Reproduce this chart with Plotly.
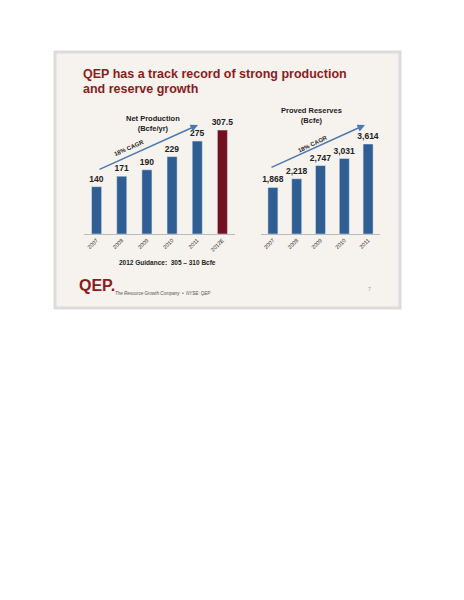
import plotly.graph_objects as go

prod_years = ["2007", "2008", "2009", "2010", "2011", "2012E"]
prod_vals = [140, 171, 190, 229, 275, 307.5]
prod_labels = ["<b>140</b>", "<b>171</b>", "<b>190</b>", "<b>229</b>", "<b>275</b>", "<b>307.5</b>"]
res_years = ["2007", "2008", "2009", "2010", "2011"]
res_vals = [1868, 2218, 2747, 3031, 3614]
res_labels = ["<b>1,868</b>", "<b>2,218</b>", "<b>2,747</b>", "<b>3,031</b>", "<b>3,614</b>"]

W, H = 464, 600
OFF = 8
px = lambda x: (x - OFF) / W
py = lambda y: 1 - (y - OFF) / H
BLUE = "#2E5E92"
RED = "#74101E"
TITLE = "#8A1C1C"

fig = go.Figure()
fig.add_trace(go.Bar(x=prod_years, y=prod_vals, text=prod_labels, textposition="outside",
                     marker_color=[BLUE]*5 + [RED], width=0.4, cliponaxis=False, constraintext="none",
                     textfont=dict(size=8.5, color="#222", family="Liberation Sans"),
                     xaxis="x", yaxis="y"))
fig.add_trace(go.Bar(x=res_years, y=res_vals, text=res_labels, textposition="outside",
                     marker_color=BLUE, width=0.42, cliponaxis=False, constraintext="none",
                     textfont=dict(size=8.5, color="#222", family="Liberation Sans"),
                     xaxis="x2", yaxis="y2"))

ax = dict(showgrid=False, showline=True, linecolor="#bbb", linewidth=1, ticks="",
          tickangle=-45, tickfont=dict(size=5.5, color="#222", family="Liberation Sans"), fixedrange=True)
ay = dict(visible=False, fixedrange=True)
fig.update_layout(
    width=W, height=H, margin=dict(l=0, r=0, t=0, b=0), showlegend=False,
    paper_bgcolor="white", plot_bgcolor="rgba(0,0,0,0)", bargap=0.4,
    xaxis=dict(domain=[px(84), px(235)], **ax),
    yaxis=dict(domain=[py(234), py(110)], range=[0, 367], **ay),
    xaxis2=dict(domain=[px(261), px(380)], anchor="y2", **ax),
    yaxis2=dict(domain=[py(234), py(110)], range=[0, 4979], anchor="x2", **ay),
    font=dict(family="Liberation Sans"),
)
fig.add_shape(type="rect", xref="paper", yref="paper", x0=px(55), x1=px(400), y0=py(308), y1=py(52),
              fillcolor="#F6F2EE", line=dict(color="#dcdcdc", width=3), layer="below")

def txt(x, y, s, size, color="#222", bold=True, angle=0, xa="center"):
    fig.add_annotation(xref="paper", yref="paper", x=px(x), y=py(y), text=f"<b>{s}</b>" if bold else s,
                       showarrow=False, font=dict(size=size, color=color), textangle=angle, xanchor=xa)

txt(81, 65, "QEP has a track record of strong production", 12.5, TITLE, xa="left")
txt(81, 80, "and reserve growth", 12.5, TITLE, xa="left")
txt(153, 112, "Net Production<br>(Bcfe/yr)", 7.5)
txt(311, 104, "Proved Reserves<br>(Bcfe)", 7.5)
txt(129, 136, "18% CAGR", 6, angle=-24)
txt(313, 132, "18% CAGR", 6, angle=-26)
txt(167, 262, "2012 Guidance:  305 – 310 Bcfe", 6.5)
txt(77, 285, "QEP.", 16, TITLE, xa="left")
txt(113, 293, "<i>The Resource Growth Company  •  NYSE: QEP</i>", 4.5, "#555", bold=False, xa="left")
txt(369, 289, "7", 5, "#999", bold=False)

for (x0, y0, x1, y1) in [(98, 170, 198, 125), (270, 168, 365, 125)]:
    fig.add_annotation(xref="paper", yref="paper", axref="pixel", ayref="pixel",
                       x=px(x1), y=py(y1), ax=x0 - x1, ay=y0 - y1, text="", showarrow=True,
                       arrowhead=2, arrowsize=1, arrowwidth=1.5, arrowcolor="#4A7AB0")

fig.write_html("out.html")
